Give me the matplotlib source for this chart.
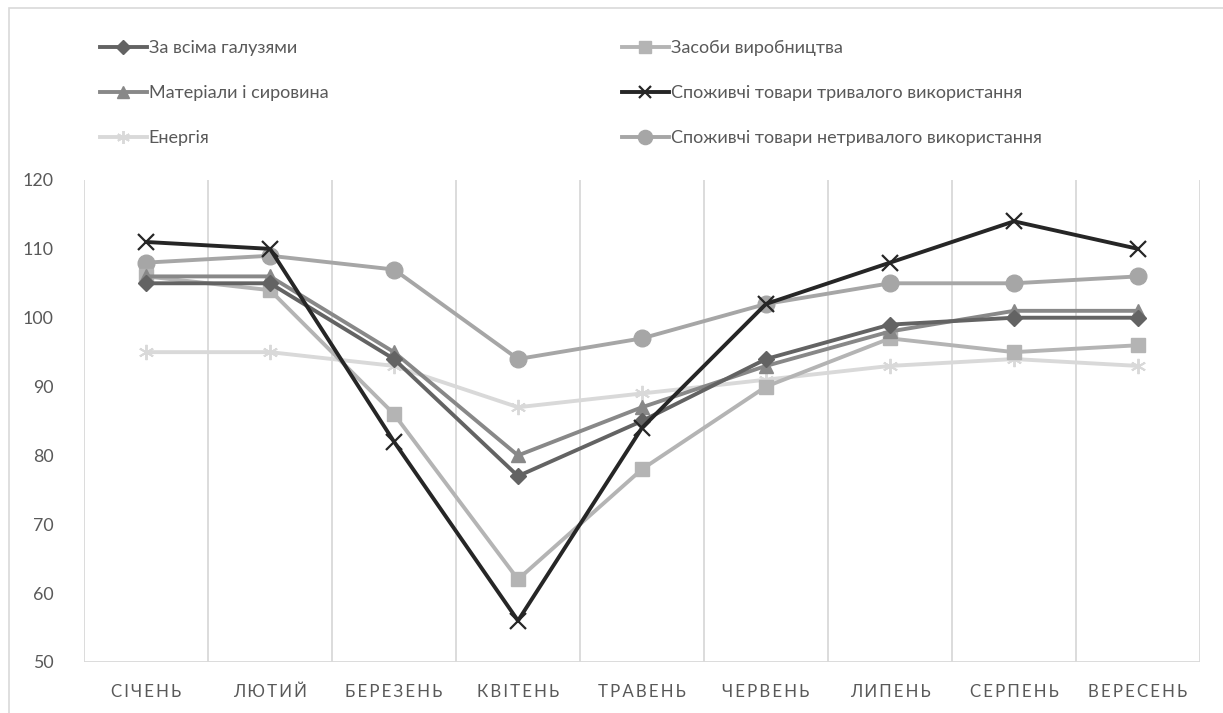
import numpy as np
import matplotlib
matplotlib.use("Agg")
import matplotlib.pyplot as plt
from matplotlib.patches import Rectangle

plt.rcParams['font.family'] = ['Lato', 'DejaVu Sans']

months = ["СІЧЕНЬ", "ЛЮТИЙ", "БЕРЕЗЕНЬ", "КВІТЕНЬ", "ТРАВЕНЬ",
          "ЧЕРВЕНЬ", "ЛИПЕНЬ", "СЕРПЕНЬ", "ВЕРЕСЕНЬ"]

all_sectors = [105, 105, 94, 77, 85, 94, 99, 100, 100]
capital_goods = [106, 104, 86, 62, 78, 90, 97, 95, 96]
materials = [106, 106, 95, 80, 87, 93, 98, 101, 101]
durable_goods = [111, 110, 82, 56, 84, 102, 108, 114, 110]
energy = [95, 95, 93, 87, 89, 91, 93, 94, 93]
nondurable_goods = [108, 109, 107, 94, 97, 102, 105, 105, 106]

labels = ["За всіма галузями", "Засоби виробництва", "Матеріали і сировина",
          "Споживчі товари тривалого використання", "Енергія",
          "Споживчі товари нетривалого використання"]

text_col = "#595959"
grid_col = "#d9d9d9"

fig = plt.figure(figsize=(12.23, 7.13), dpi=100)
ax = fig.add_axes([84 / 1223, 1 - 662 / 713, 1116 / 1223, 482 / 713])

x = np.arange(len(months))
lw = 2.8

# draw order: light ones first, dark on top
l_energy, = ax.plot(x, energy, color="#d9d9d9", lw=lw, marker=(6, 2, 0),
                    ms=11, mew=1.4, zorder=3)
l_nondur, = ax.plot(x, nondurable_goods, color="#a6a6a6", lw=lw, marker="o",
                    ms=12, zorder=4)
l_cap, = ax.plot(x, capital_goods, color="#b4b4b4", lw=lw, marker="s",
                 ms=10, zorder=5)
l_mat, = ax.plot(x, materials, color="#888888", lw=lw, marker="^",
                 ms=10, zorder=6)
l_all, = ax.plot(x, all_sectors, color="#636363", lw=lw, marker="D",
                 ms=8, zorder=7)
l_dur, = ax.plot(x, durable_goods, color="#262626", lw=lw, marker="x",
                 ms=11, mew=1.6, zorder=8)

ax.set_xlim(-0.5, len(months) - 0.5)
ax.set_ylim(50, 120)
ax.set_yticks(np.arange(50, 121, 10))
ax.set_xticks(x)
ax.set_xticklabels(["\u2009".join(m) for m in months])
ax.set_xticks(np.arange(-0.5, len(months), 1), minor=True)
ax.grid(which="minor", axis="x", color=grid_col, lw=1.3)
ax.axhline(50, color=grid_col, lw=1.3, zorder=1)
ax.tick_params(which="both", length=0)
ax.tick_params(axis="y", pad=22, labelsize=12.8, labelcolor=text_col)
ax.tick_params(axis="x", pad=16, labelsize=12.2, labelcolor=text_col)
for s in ax.spines.values():
    s.set_visible(False)

leg_kw = dict(frameon=False, loc="upper left", fontsize=13, handlelength=2.6,
              handletextpad=0.1, labelspacing=1.62, borderpad=0,
              borderaxespad=0, labelcolor=text_col, markerscale=0.85)
leg1 = fig.legend([l_all, l_mat, l_energy], [labels[0], labels[2], labels[4]],
                  bbox_to_anchor=(100 / 1223, 1 - 40 / 713), **leg_kw)
leg2 = fig.legend([l_cap, l_dur, l_nondur], [labels[1], labels[3], labels[5]],
                  bbox_to_anchor=(622 / 1223, 1 - 40 / 713), **leg_kw)

# outer chart frame (partly cropped in the original)
fig.add_artist(Rectangle((9 / 1223, -0.05), 1.1, 1 - 8 / 713 + 0.05,
                         transform=fig.transFigure, fill=False,
                         edgecolor=grid_col, lw=1.2))

fig.savefig("out.png", dpi=100, facecolor="white")
